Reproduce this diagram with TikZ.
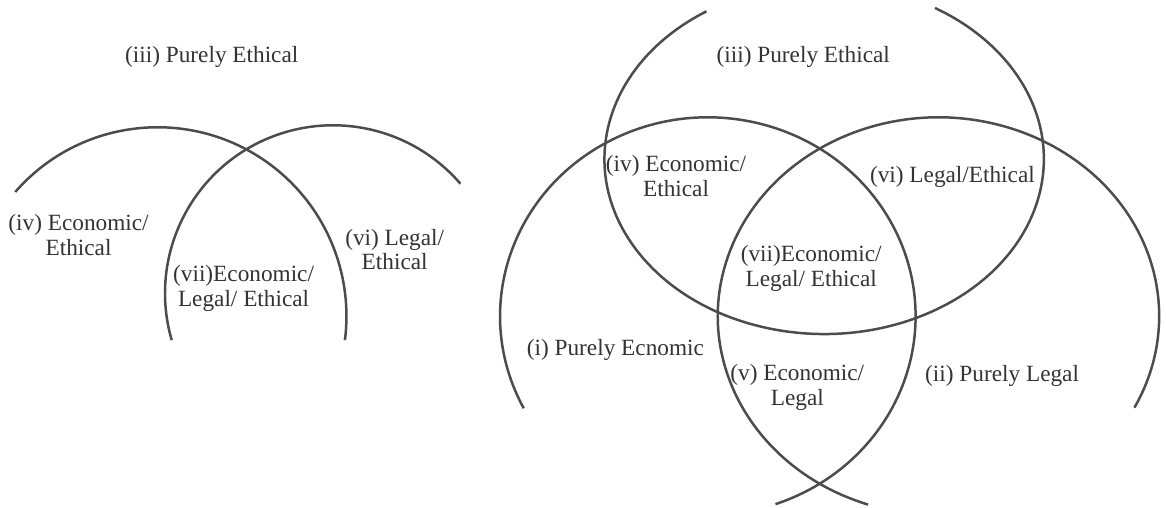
\documentclass[tikz,border=0pt]{standalone}
\usepackage{fontspec}
\setmainfont{Liberation Serif}

\begin{document}
\begin{tikzpicture}[x=0.5pt,y=-0.5pt,
  ring/.style={draw=black!70,line width=1.25pt},
  lbl/.style={align=center,text=black!80,font=\fontsize{11.7}{12.5}\selectfont}]
\fill[white] (0,0) rectangle (1166,510);
% left part: two arcs
\coordinate (lcl) at (158.5,318);
\coordinate (lcr) at (335,295);
\draw[ring] (lcl) ++(221.1:190) arc[start angle=221.1,end angle=367.3,radius=190];
\draw[ring] (lcr) ++(163.8:169) arc[start angle=163.8,end angle=319.3,radius=169];
\node[lbl] (liii) at (213,57) {(iii) Purely Ethical};
\node[lbl] (liv) at (79,236) {(iv) Economic/\\Ethical};
\node[lbl] (lvi) at (397,251) {(vi) Legal/\\Ethical};
\node[lbl] (lvii) at (245,290) {(vii)Economic/\\Legal/ Ethical};
% right part: three rings
\coordinate (eth) at (829,160);
\coordinate (eco) at (712,318);
\coordinate (leg) at (944,318);
\draw[ring] (eth) ++(237.6:221 and 176) arc[start angle=237.6,end angle=-59.7,x radius=221,y radius=176];
\draw[ring] (eco) ++(152.4:209 and 200) arc[start angle=152.4,end angle=431,x radius=209,y radius=200];
\draw[ring] (leg) ++(108.6:222 and 200) arc[start angle=108.6,end angle=387.4,x radius=222,y radius=200];
\node[lbl] (riii) at (808,57) {(iii) Purely Ethical};
\node[lbl] (riv) at (680,177) {(iv) Economic/\\Ethical};
\node[lbl] (rvi) at (958,178) {(vi) Legal/Ethical};
\node[lbl] (rvii) at (816,270) {(vii)Economic/\\Legal/ Ethical};
\node[lbl] (ri) at (619,352) {(i) Purely Ecnomic};
\node[lbl] (rv) at (802,390) {(v) Economic/\\Legal};
\node[lbl] (rii) at (1008,378) {(ii) Purely Legal};
\end{tikzpicture}
\end{document}
